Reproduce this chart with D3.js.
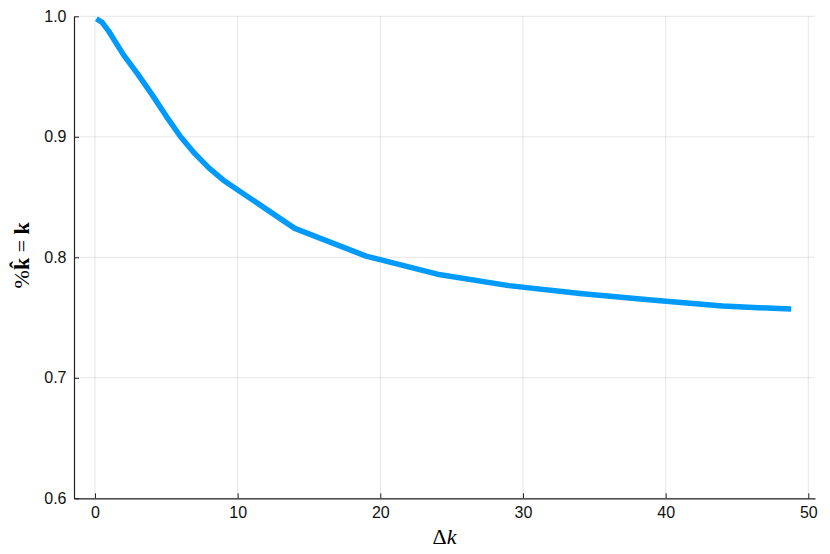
<!DOCTYPE html>
<html><head><meta charset="utf-8">
<script src="https://cdn.jsdelivr.net/npm/d3@7"></script>
<style>body{margin:0;background:#fff}svg{display:block}</style>
</head><body>
<svg id="c" width="830" height="554"></svg>
<script>
const dk = [0.1, 0.5, 1, 2, 3, 4, 5, 6, 7, 8, 9, 14, 19, 24, 29, 34, 39, 44, 48.8];
const frac = [0.998, 0.995, 0.987, 0.968, 0.952, 0.935, 0.917, 0.900, 0.886, 0.874, 0.864, 0.824, 0.801, 0.786, 0.7765, 0.770, 0.7645, 0.7595, 0.757];
const xTicks = [0, 10, 20, 30, 40, 50];
const yTicks = [0.6, 0.7, 0.8, 0.9, 1.0];

const svg = d3.select("#c");
const L = 74, R = 815, T = 16.3, B = 498.3;
const x = d3.scaleLinear().domain([-1.47, 50.47]).range([L, R]);
const y = d3.scaleLinear().domain([0.6, 1.0]).range([B, T]);

const font = "'Liberation Sans', Arial, sans-serif";

// grid
svg.append("g").selectAll("line").data(xTicks).join("line")
  .attr("x1", d => x(d)).attr("x2", d => x(d)).attr("y1", T).attr("y2", B)
  .attr("stroke", "#000").attr("stroke-opacity", 0.1).attr("stroke-width", 1);
svg.append("g").selectAll("line").data(yTicks).join("line")
  .attr("x1", L).attr("x2", R).attr("y1", d => y(d)).attr("y2", d => y(d))
  .attr("stroke", "#000").attr("stroke-opacity", 0.1).attr("stroke-width", 1);

// axes
const xa = svg.append("g").attr("transform", `translate(0,${B})`)
  .call(d3.axisBottom(x).tickValues(xTicks).tickSizeInner(-5).tickSizeOuter(0).tickPadding(8.5).tickFormat(d3.format("d")));
const ya = svg.append("g").attr("transform", `translate(${L},0)`)
  .call(d3.axisLeft(y).tickValues(yTicks).tickSizeInner(-5).tickSizeOuter(0).tickPadding(7.5).tickFormat(d3.format(".1f")));
[xa, ya].forEach(a => {
  a.select(".domain").attr("stroke", "#222").attr("stroke-width", 1.2);
  a.selectAll(".tick line").attr("stroke", "#222").attr("stroke-width", 1);
  a.selectAll(".tick text").attr("fill", "#111").style("font-family", font).style("font-size", "16px");
});

// line
svg.append("path").datum(dk.map((d, i) => [d, frac[i]]))
  .attr("fill", "none").attr("stroke", "#009AFA").attr("stroke-width", 5.5)
  .attr("stroke-linejoin", "round")
  .attr("d", d3.line().x(d => x(d[0])).y(d => y(d[1])));

// labels
const serif = "'Liberation Serif', 'DejaVu Serif', serif";
svg.append("text").attr("x", (L + R) / 2).attr("y", 544).attr("text-anchor", "middle")
  .style("font-family", serif).style("font-size", "22px")
  .html('Δ<tspan font-style="italic">k</tspan>');
svg.append("text").attr("transform", `translate(29,${(T + B) / 2 - 2}) rotate(-90)`).attr("text-anchor", "middle")
  .style("font-family", serif).style("font-size", "22px")
  .html('%<tspan font-weight="bold">k̂</tspan> = <tspan font-weight="bold">k</tspan>');
</script>
</body></html>
